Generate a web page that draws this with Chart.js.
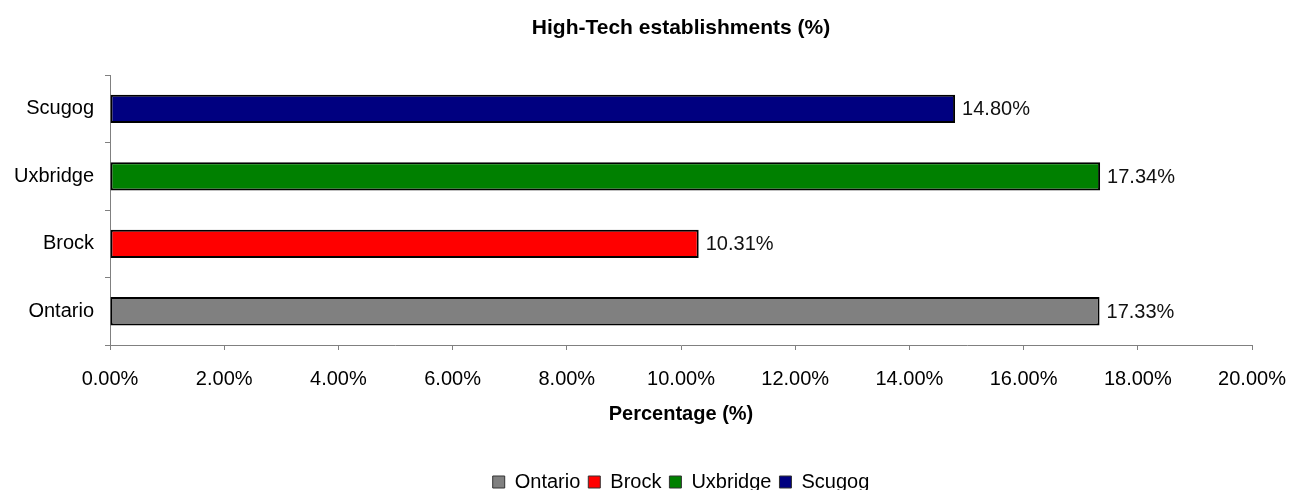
<!DOCTYPE html>
<html>
<head>
<meta charset="utf-8">
<script src="https://cdn.jsdelivr.net/npm/chart.js"></script>
<style>
  body { margin: 0; background: #fff; }
  #wrap { width: 1300px; height: 490px; }
</style>
</head>
<body>
<div id="wrap"><canvas id="htech"></canvas></div>
<script>
// data
const categories = ['Ontario', 'Brock', 'Uxbridge', 'Scugog'];
const shares = [17.33, 10.31, 17.34, 14.80];
const barColors = ['#808080', '#FF0000', '#008000', '#000080'];
const xTicks = [0, 2, 4, 6, 8, 10, 12, 14, 16, 18, 20];

Chart.defaults.font.family = 'Arial, "Liberation Sans", sans-serif';
Chart.defaults.color = '#000';

// value labels at the end of each bar
const barLabels = {
    id: 'barLabels',
    afterDatasetsDraw(chart) {
        const ctx = chart.ctx;
        const meta = chart.getDatasetMeta(0);
        ctx.save();
        ctx.font = '20px Arial, "Liberation Sans", sans-serif';
        ctx.fillStyle = '#111';
        ctx.textAlign = 'left';
        ctx.textBaseline = 'middle';
        meta.data.forEach(function (bar, i) {
            ctx.fillText(shares[i].toFixed(2) + '%', bar.x + 7, bar.y + 1);
        });
        ctx.restore();
    }
};

var ctx = document.getElementById('htech');

var data = {
    labels: categories,
    datasets: [{
        label: 'High-Tech establishments (%)',
        data: shares,
        backgroundColor: barColors,
        borderColor: '#000',
        borderWidth: 2,
        borderSkipped: false,
        barPercentage: 0.42,
        categoryPercentage: 1
    }]
};

const config = {
    type: 'bar',
    data: data,
    plugins: [barLabels],
    options: {
        indexAxis: 'y',
        responsive: true,
        maintainAspectRatio: false,
        animation: false,
        layout: {
            padding: { left: 0, right: 48, top: 0, bottom: -12 }
        },
        plugins: {
            title: {
                display: true,
                fullSize: false,
                text: 'High-Tech establishments (%)',
                font: { size: 21, weight: 'bold' },
                color: '#000',
                padding: { top: 16, bottom: 34 }
            },
            legend: {
                position: 'bottom',
                fullSize: false,
                labels: {
                    boxWidth: 12,
                    boxHeight: 12,
                    padding: 8,
                    font: { size: 20 },
                    color: '#000',
                    generateLabels: function (chart) {
                        return categories.map(function (c, i) {
                            return {
                                text: c,
                                fillStyle: barColors[i],
                                strokeStyle: '#333',
                                lineWidth: 1,
                                index: i
                            };
                        });
                    }
                },
                onClick: function () {}
            },
            tooltip: { enabled: false }
        },
        scales: {
            x: {
                min: 0,
                max: 20,
                afterBuildTicks: function (scale) {
                    scale.ticks = xTicks.map(function (v) { return { value: v }; });
                },
                afterFit: function (scale) {
                    scale.height = 119;
                    scale.paddingLeft = 0;
                    scale.paddingRight = 0;
                },
                grid: {
                    drawOnChartArea: false,
                    tickLength: 5,
                    color: '#808080'
                },
                border: { color: '#808080', width: 1 },
                ticks: {
                    padding: 17,
                    font: { size: 20 },
                    color: '#000',
                    maxRotation: 0,
                    callback: function (v) { return Number(v).toFixed(2) + '%'; }
                },
                title: {
                    display: true,
                    text: 'Percentage (%)',
                    font: { size: 20, weight: 'bold' },
                    color: '#000',
                    padding: { top: 0, bottom: 38 }
                }
            },
            y: {
                reverse: true,
                afterFit: function (scale) { scale.width = 110; },
                grid: {
                    drawOnChartArea: false,
                    offset: true,
                    tickLength: 5,
                    color: '#808080'
                },
                border: { color: '#808080', width: 1 },
                ticks: {
                    padding: 11,
                    font: { size: 20 },
                    color: '#000'
                }
            }
        }
    }
};
var htechChart = new Chart(ctx, config);
</script>
</body>
</html>
